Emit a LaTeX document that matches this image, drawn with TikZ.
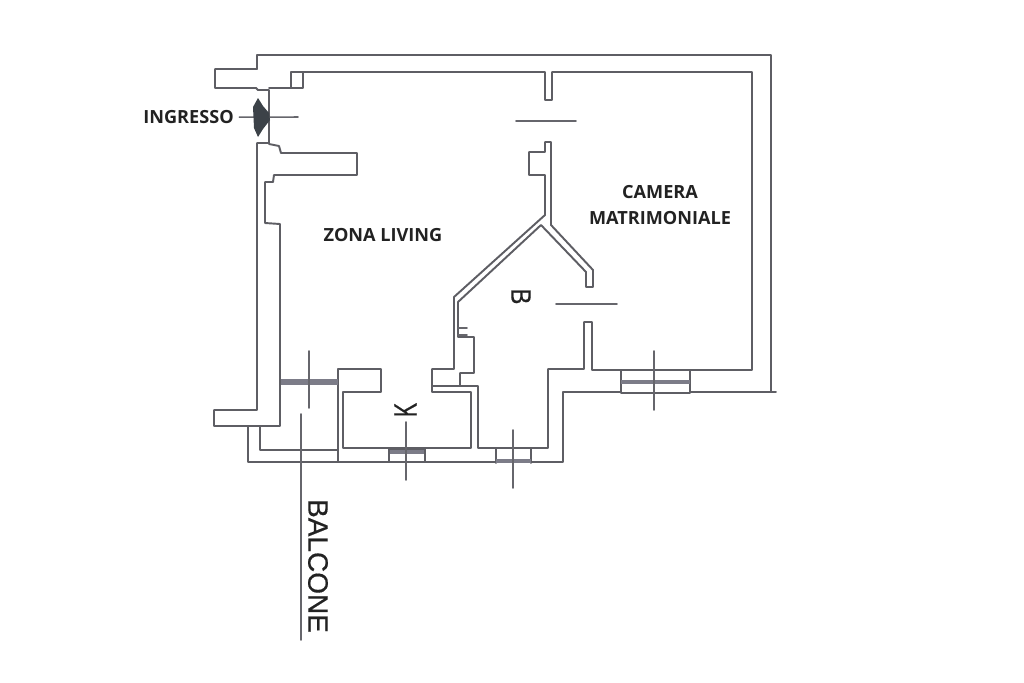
\documentclass[tikz,border=0pt]{standalone}
\usepackage{fontspec}
\setmainfont{Open Sans}
\newfontfamily\drawnfont[FakeBold=0.5]{Liberation Sans}
\definecolor{wallc}{HTML}{5E5E64}
\definecolor{wallfine}{HTML}{66666C}
\definecolor{glass}{HTML}{7C7C88}
\definecolor{darkc}{HTML}{3C4248}
\definecolor{textc}{HTML}{222222}
\tikzset{
  wall/.style={draw=wallc,line width=1.45pt,line join=round,line cap=round},
  fine/.style={draw=wallfine,line width=1.15pt,line cap=round},
  label/.style={font=\bfseries\fontsize{13.6}{19}\selectfont,text=textc,align=center,inner sep=0pt},
  drawn/.style={font=\drawnfont\fontsize{21}{21}\selectfont,text=textc,inner sep=0pt}
}
\begin{document}
\begin{tikzpicture}[x=.75pt,y=-.75pt]
\useasboundingbox (0,0) rectangle (1024,682);
% outer shell
\draw[wall] (257,69) -- (257,55) -- (771,55) -- (771,392);
\draw[wall] (776,392) -- (690,392);
\draw[wall] (621,392) -- (563,392) -- (563,462) -- (248,462) -- (248,426);
\draw[wall] (257,69) -- (215,69) -- (215,88) -- (256,88) -- (258,90) -- (269,90) -- (269,143) -- (257,143) -- (257,410) -- (214,410) -- (214,426) -- (280,426) -- (280,224) -- (265,223) -- (265,182) -- (273,182) -- (274,175) -- (357,175) -- (357,153) -- (281,153) -- (279,146) -- (269,144);
% inner top and right
\draw[wall] (269,88) -- (303,88) -- (303,72) -- (545,72) -- (545,100) -- (552,100) -- (552,72) -- (752,72) -- (752,370) -- (592,370) -- (592,322) -- (584,322) -- (584,369) -- (548,369) -- (548,448) -- (478,448) -- (478,386) -- (432,386) -- (432,369) -- (454,369) -- (454,297) -- (545,215) -- (545,175) -- (529,175) -- (529,152) -- (545,152) -- (545,142) -- (551,142) -- (551,225) -- (593,270) -- (593,287) -- (586,287) -- (586,272) -- (541,225) -- (458,302) -- (458,337) -- (474,337) -- (474,373) -- (460,373) -- (460,386);
\draw[wall] (291,88) -- (291,72) -- (303,72);
\draw[fine] (458,328) -- (467,328) (458,335) -- (467,335);
% kitchen block
\draw[wall] (432,386) -- (432,392) -- (471,392) -- (471,448) -- (343,448) -- (343,392) -- (381,392) -- (381,369) -- (338,369) -- (338,462);
% balcony
\draw[wall] (260,426) -- (260,450) -- (338,450);
% windows
\fill[glass] (281,379) rectangle (338,385);
\draw[wall] (621,371) -- (621,393) -- (690,393) -- (690,371);
\fill[glass] (621,380) rectangle (690,384);
\draw[wall] (389,462) -- (389,449) -- (425,449) -- (425,462);
\fill[glass] (390,450) rectangle (424,454);
\draw[wall] (496,448) -- (496,463) (531,448) -- (531,463);
\fill[glass] (496,459) rectangle (531,463);
% door swings and window crosses
\draw[fine] (516,121) -- (576,121);
\draw[fine] (556,304) -- (617,304);
\draw[fine] (309,351) -- (309,408);
\draw[fine] (406,422) -- (406,480);
\draw[fine] (513,430) -- (513,488);
\draw[fine] (654,351) -- (654,410);
\draw[fine] (301,414) -- (301,640);
% entrance
\node[label,anchor=center] (ing) at (188.5,117.2) {INGRESSO};
\coordinate (ingEnd) at (298,117);
\draw[fine] (ing.east) ++(4pt,0) -- (ingEnd);
\fill[darkc] (258,98) -- (263,106) -- (269,113) -- (270,120) -- (263,129) -- (258,137) -- (254,128) -- (253,107) -- cycle;
% labels
\node[label] (living) at (383,234.6) {ZONA LIVING};
\node[label] (camera) at (660,205) {CAMERA\\MATRIMONIALE};
\node[drawn,rotate=-90] (balcone) at (318,566) {BALCONE};
\node[drawn,rotate=90,font=\drawnfont\fontsize{24}{24}\selectfont] (k) at (405.5,410) {\scalebox{.67}[1]{K}};
\node[drawn,rotate=-90,font=\drawnfont\fontsize{21}{21}\selectfont] (b) at (521,296.5) {\scalebox{.85}[1]{B}};
\end{tikzpicture}
\end{document}
